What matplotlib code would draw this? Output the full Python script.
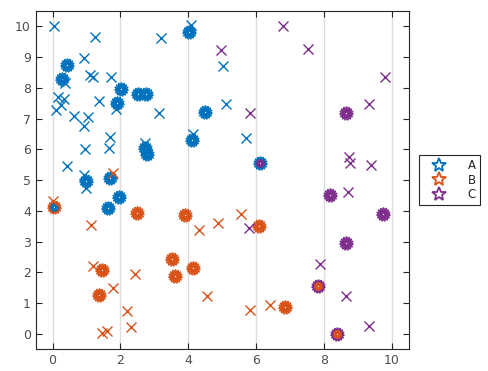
import matplotlib.pyplot as plt

# colours (MATLAB default order)
colors = {'A': '#0072BD', 'B': '#D95319', 'C': '#7E2F8E'}

# single points drawn as crosses
a_x = [0.03, 1.24, 3.2, 0.92, 1.09, 1.19, 1.72, 0.36, 0.15, 0.35, 0.1, 0.25,
       1.38, 0.63, 1.03, 0.94, 1.86, 3.14, 1.7, 1.66, 0.95, 0.41, 0.92, 0.97,
       2.72, 4.08, 5.03, 5.11, 4.13, 5.69]
a_y = [10.0, 9.66, 9.62, 8.97, 8.42, 8.37, 8.34, 8.15, 7.7, 7.65, 7.28, 7.45,
       7.56, 7.1, 7.05, 6.77, 7.3, 7.2, 6.4, 6.03, 6.0, 5.46, 5.18, 4.75,
       6.22, 10.05, 8.72, 7.49, 6.49, 6.37]

b_x = [0.0, 1.13, 1.19, 1.77, 2.42, 2.18, 2.31, 1.45, 1.6, 1.77, 4.3, 4.86,
       5.56, 4.55, 5.81, 6.4]
b_y = [4.32, 3.53, 2.22, 1.49, 1.93, 0.73, 0.21, 0.02, 0.08, 5.24, 3.37, 3.59,
       3.91, 1.22, 0.77, 0.93]

c_x = [6.78, 7.52, 4.97, 5.81, 9.8, 9.32, 8.74, 8.76, 9.38, 8.7, 7.87, 8.65,
       9.32, 5.79]
c_y = [10.01, 9.28, 9.22, 7.2, 8.37, 7.49, 5.74, 5.57, 5.49, 4.6, 2.28, 1.22,
       0.24, 3.45]

# cluster centres drawn as stacked stars
a_cx = [0.29, 0.43, 2.02, 1.89, 2.52, 2.74, 2.72, 2.77, 0.97, 1.7, 4.01, 4.5,
        4.1, 1.62, 1.95]
a_cy = [8.3, 8.75, 7.95, 7.5, 7.79, 7.79, 6.05, 5.86, 4.96, 5.07, 9.83, 7.22,
        6.32, 4.09, 4.45]

b_cx = [2.48, 1.47, 1.37, 3.52, 3.62, 4.15, 3.91, 6.08, 6.84]
b_cy = [3.93, 2.08, 1.27, 2.42, 1.87, 2.14, 3.85, 3.5, 0.86]

c_cx = [8.65, 8.18, 9.74, 8.65]
c_cy = [7.19, 4.5, 3.91, 2.95]

# clusters where two classes overlap: (outer class, inner class)
mix_x = [0.04, 6.11, 7.81, 8.37]
mix_y = [4.13, 5.56, 1.54, 0.0]
mix_outer = ['B', 'A', 'C', 'C']
mix_inner = ['A', 'C', 'B', 'B']

labels = ['A', 'B', 'C']


def blob(ax, xs, ys, col, sizes=(10, 7, 4), z=3):
    for s in sizes:
        for ang in (0, 24, 48):
            ax.plot(xs, ys, linestyle='none', marker=(5, 1, ang), markersize=s,
                    markerfacecolor='none', markeredgecolor=col,
                    markeredgewidth=0.9, zorder=z)


fig = plt.figure(figsize=(4.88, 3.71), dpi=100)
ax = fig.add_axes([0.073, 0.059, 0.765, 0.911])

blob(ax, a_cx, a_cy, colors['A'])
blob(ax, b_cx, b_cy, colors['B'])
blob(ax, c_cx, c_cy, colors['C'])
for x, y, o, i in zip(mix_x, mix_y, mix_outer, mix_inner):
    blob(ax, [x], [y], colors[o], sizes=(10, 8.5), z=3)
    blob(ax, [x], [y], colors[i], sizes=(6, 3.5), z=4)

for lab, xs, ys in [('A', a_x, a_y), ('B', b_x, b_y), ('C', c_x, c_y)]:
    ax.plot(xs, ys, linestyle='none', marker='x', markersize=7,
            markeredgecolor=colors[lab], markeredgewidth=1.0, zorder=5)

# legend handles
for lab in labels:
    ax.plot([], [], linestyle='none', marker='*', markersize=10,
            markerfacecolor='none', markeredgecolor=colors[lab],
            markeredgewidth=1.3, label=lab)

ax.set_xlim(-0.5, 10.5)
ax.set_ylim(-0.5, 10.5)
ax.set_xticks(range(0, 11, 2))
ax.set_yticks(range(0, 11))
ax.xaxis.grid(True, color='#dcdcdc', linewidth=1)
ax.set_axisbelow(True)
ax.tick_params(direction='in', top=True, right=True, labelsize=9,
               colors='#262626', labelcolor='#4d4d4d', length=4)
for sp in ax.spines.values():
    sp.set_color('#262626')
    sp.set_linewidth(0.8)

leg = ax.legend(loc='center left', bbox_to_anchor=(1.028, 0.5), fontsize=8.5,
                fancybox=False, edgecolor='#262626', framealpha=1,
                handletextpad=1.0, borderpad=0.3, handlelength=2.8,
                borderaxespad=0, labelspacing=0.15)
for t in leg.get_texts():
    t.set_color('#262626')
leg.get_frame().set_linewidth(0.8)

fig.savefig('out.png', dpi=100)
